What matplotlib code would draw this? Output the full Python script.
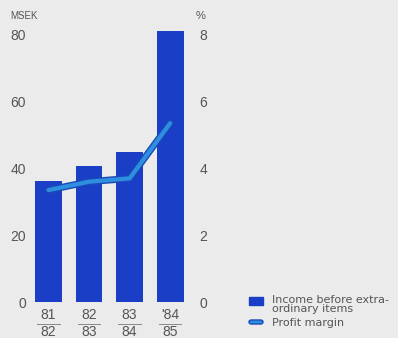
import matplotlib.pyplot as plt
from matplotlib.patches import Rectangle, FancyBboxPatch
from matplotlib.lines import Line2D

# data
years_top = ["81", "82", "83", "'84"]
years_bottom = ["82", "83", "84", "85"]
income = [36.3, 40.8, 45.0, 81.0]          # MSEK
margin = [3.35, 3.6, 3.7, 5.35]            # %
left_ticks = [0, 20, 40, 60, 80]
right_ticks = [0, 2, 4, 6, 8]

bg = "#ebebeb"
bar_col = "#1b3ec6"
line_col = "#2e8fe0"
edge_col = "#1a49b8"
txt = "#555555"

plt.rcParams["font.family"] = ["Liberation Sans", "DejaVu Sans"]

fig = plt.figure(figsize=(3.98, 3.38), dpi=100, facecolor=bg)
ax = fig.add_axes([30 / 398, 36 / 338, 160 / 398, 272 / 338])
ax.set_facecolor(bg)
ax2 = ax.twinx()

x = list(range(len(income)))
ax.bar(x, income, width=0.66, color=bar_col, zorder=2)
ax.set_ylim(0, 81.4)
ax.set_xlim(-0.457, 3.49)
ax2.set_ylim(0, 8.14)

ax2.plot(x, margin, color=edge_col, lw=5.0, solid_capstyle="round", zorder=3)
ax2.plot(x, margin, color=line_col, lw=3.0, solid_capstyle="round", zorder=4)

for a in (ax, ax2):
    for s in a.spines.values():
        s.set_visible(False)
    a.tick_params(length=0, labelsize=10, labelcolor=txt)

ax.set_yticks(left_ticks)
ax.set_yticklabels([str(t) for t in left_ticks])
ax.tick_params(axis="y", pad=3)
ax2.set_yticks(right_ticks)
ax2.set_yticklabels([str(t) for t in right_ticks])
ax2.tick_params(axis="y", pad=7)
ax.set_xticks([])

# fraction style year labels
trans = ax.get_xaxis_transform()
for i in x:
    ax.text(i, -0.0625, years_top[i], transform=trans, ha="center", va="baseline",
            fontsize=10, color=txt)
    ax.add_line(Line2D([i - 0.28, i + 0.28], [-0.081, -0.081], transform=trans,
                       color="#888888", lw=0.7, clip_on=False))
    ax.text(i, -0.125, years_bottom[i], transform=trans, ha="center", va="baseline",
            fontsize=10, color=txt)

fig.text(10 / 398, 1 - 16 / 338, "MSEK", fontsize=7, color=txt, va="center")
fig.text(196 / 398, 1 - 16 / 338, "%", fontsize=8, color=txt, va="center")

# legend
fig.patches.append(Rectangle((249 / 398, 1 - 305 / 338), 14 / 398, 8 / 338,
                             transform=fig.transFigure, color=bar_col))
fig.patches.append(FancyBboxPatch((249 / 398, 1 - 324 / 338), 14 / 398, 4 / 338,
                                  boxstyle="round,pad=0,rounding_size=0.006",
                                  transform=fig.transFigure, facecolor=line_col,
                                  edgecolor=edge_col, lw=1))
fig.text(272 / 398, 1 - 295 / 338, "Income before extra-\nordinary items",
         fontsize=8, family="DejaVu Sans", color=txt, va="top",
         linespacing=0.85)
fig.text(272 / 398, 1 - 323 / 338, "Profit margin", fontsize=8,
         family="DejaVu Sans", color=txt, va="center")

fig.savefig("out.png", dpi=100, facecolor=bg)
